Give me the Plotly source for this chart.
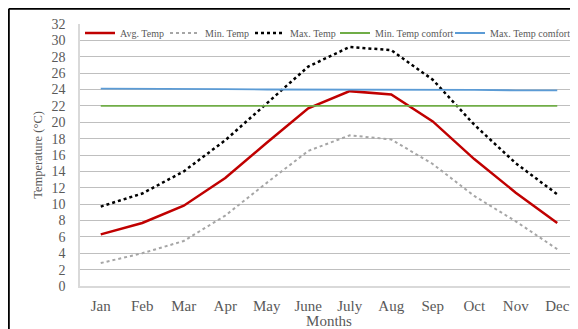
import plotly.graph_objects as go

months = ["Jan", "Feb", "Mar", "Apr", "May", "June", "July", "Aug", "Sep", "Oct", "Nov", "Dec"]
avg_temp = [6.3, 7.7, 9.8, 13.2, 17.5, 21.7, 23.8, 23.4, 20.1, 15.5, 11.4, 7.7]
min_temp = [2.8, 4.0, 5.5, 8.6, 12.6, 16.5, 18.4, 17.9, 14.9, 11.0, 7.9, 4.5]
max_temp = [9.7, 11.3, 14.0, 17.8, 22.3, 26.8, 29.2, 28.8, 25.2, 19.7, 15.0, 11.2]
min_comfort = [22] * 12
max_comfort = [24.1, 24.1, 24.05, 24.05, 24.0, 24.0, 24.0, 24.0, 23.95, 23.95, 23.9, 23.9]

serif = "Liberation Serif, Times New Roman, serif"
# page body has an 8px margin, so the figure is 570x321 placed at (8, 8)
FW, FH = 570, 321
L, R, T, B = 72, 0, 16, 43
W = FW - L - R
H = FH - T - B

fig = go.Figure()
fig.add_trace(go.Scatter(x=months, y=avg_temp, name="Avg. Temp", mode="lines",
                         legendwidth=40, line=dict(color="#c00000", width=2.5)))
fig.add_trace(go.Scatter(x=months, y=min_temp, name="Min. Temp", mode="lines",
                         legendwidth=40, line=dict(color="#a6a6a6", width=2, dash="dot")))
fig.add_trace(go.Scatter(x=months, y=max_temp, name="Max. Temp", mode="lines",
                         legendwidth=40, line=dict(color="#000000", width=2.5, dash="dot")))
fig.add_trace(go.Scatter(x=months, y=min_comfort, name="Min. Temp comfort", mode="lines",
                         legendwidth=70, line=dict(color="#70ad47", width=1.8)))
fig.add_trace(go.Scatter(x=months, y=max_comfort, name="Max. Temp comfort", mode="lines",
                         legendwidth=78, line=dict(color="#5b9bd5", width=1.8)))

fig.update_layout(
    width=FW, height=FH,
    margin=dict(l=L, r=R, t=T, b=B, autoexpand=False),
    paper_bgcolor="white", plot_bgcolor="white",
    font=dict(family=serif, color="#595959", size=14),
    showlegend=True,
    legend=dict(orientation="h", x=0.0, y=1 - 9 / H, xanchor="left", yanchor="middle",
                font=dict(family=serif, size=10, color="#595959"),
                bgcolor="rgba(255,255,255,0)", itemwidth=30, tracegroupgap=0,
                traceorder="normal"),
    xaxis=dict(type="category", range=[-0.5, 11.5], showgrid=False, automargin=False,
               showline=True, linecolor="#d9d9d9", linewidth=1.5,
               ticks="", ticklabelstandoff=5, tickfont=dict(size=15, color="#595959"),
               title=dict(text="Months", font=dict(size=15, color="#595959"), standoff=0)),
    yaxis=dict(range=[0, 32], dtick=2, tick0=0, showgrid=True, automargin=False,
               gridcolor="#bfbfbf", gridwidth=1.3,
               showline=True, linecolor="#d9d9d9", linewidth=1.5,
               zeroline=False, ticks="", ticklabelstandoff=10, tickfont=dict(size=14, color="#595959"),
               title=dict(text="Temperature (°C)", font=dict(size=12.5, color="#595959"), standoff=6)),
    shapes=[
        dict(type="line", xref="paper", yref="paper", x0=(0.8 - L) / W, x1=(0.8 - L) / W,
             y0=(H + T - 0.8) / H, y1=-B / H, line=dict(color="black", width=2)),
        dict(type="line", xref="paper", yref="paper", x0=(0.8 - L) / W, x1=1.0,
             y0=(H + T - 0.8) / H, y1=(H + T - 0.8) / H, line=dict(color="black", width=2)),
    ],
)

fig.write_html("out.html")
